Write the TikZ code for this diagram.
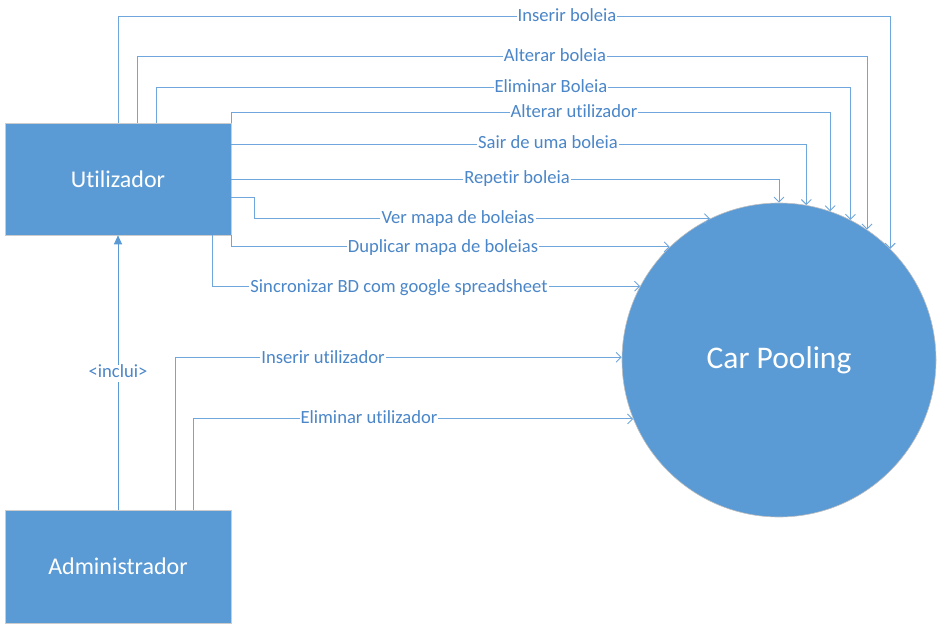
\documentclass[tikz,border=0pt]{standalone}
\usepackage{fontspec}
\setmainfont{Carlito}[Ligatures={NoCommon}]
\usetikzlibrary{arrows.meta,calc}
\definecolor{boxblue}{HTML}{5B9BD5}
\definecolor{lineblue}{HTML}{6FA6DB}
\definecolor{txtblue}{HTML}{4A86C8}
\begin{document}
\begin{tikzpicture}[x=1pt,y=-1pt,
  actor/.style={rectangle, fill=boxblue, draw=black!20, line width=0.6pt, minimum width=226pt, minimum height=112pt, text=white, font=\fontsize{24}{28}\selectfont, inner sep=0pt},
  proc/.style={circle, fill=boxblue, draw=black!25, line width=0.6pt, minimum size=314pt, inner sep=0pt, text=white, font=\fontsize{31.5}{36}\selectfont},
  flow/.style={draw=lineblue, line width=0.9pt, -{Straight Barb[length=5pt,width=10pt]}},
  incl/.style={draw=boxblue, line width=0.9pt, -{Triangle[length=9pt,width=8pt]}},
  lbl/.style={fill=white, text=txtblue, font=\fontsize{18.6}{22}\selectfont, inner xsep=1pt, inner ysep=0pt, text height=13pt, text depth=4pt}
]
\useasboundingbox (0,0) rectangle (941,631);
\node[actor] (U) at (118,179) {Utilizador};
\node[actor, minimum height=113pt] (A) at (118,566.5) {Administrador};
\node[proc] (C) at (779,360) {Car Pooling};

\draw[flow] (U.north) -- ++(0,-106) -| (C.45.5);
\draw[flow] ($(U.north)+(19,0)$) -- ++(0,-66) -| (C.56.35);
\draw[flow] ($(U.north)+(38,0)$) -- ++(0,-35) -| (C.63.5);
\draw[flow] (U.north east) -- ++(0,-10) -| (C.71.05);
\draw[flow] ($(U.east)+(0,-35)$) -| (C.80.8);
\draw[flow] (U.east) -| (C.north);
\draw[flow] ($(U.east)+(0,18)$) -- ++(23,0) |- (C.116.1);
\draw[flow] (U.south east) |- (C.134.5);
\draw[flow] ($(U.south east)+(-19,0)$) |- (C.152.7);
\draw[flow] ($(A.north)+(57,0)$) |- (C.179.6);
\draw[flow] ($(A.north)+(75,0)$) |- (C.202.07);
\draw[incl] (A.north) -- (U.south);

\node[lbl] (l1) at (567,17) {Inserir boleia};
\node[lbl] (l2) at (555,57) {Alterar boleia};
\node[lbl] (l3) at (551,88) {Eliminar Boleia};
\node[lbl] (l4) at (574,113) {Alterar utilizador};
\node[lbl] (l5) at (548,144) {Sair de uma boleia};
\node[lbl] (l6) at (517,179) {Repetir boleia};
\node[lbl] (l7) at (458,219) {Ver mapa de boleias};
\node[lbl] (l8) at (443,248) {Duplicar mapa de boleias};
\node[lbl] (l9) at (399,288) {Sincronizar BD com google spreadsheet};
\node[lbl] (l10) at (323,359) {Inserir utilizador};
\node[lbl] (l11) at (369,419) {Eliminar utilizador};
\node[lbl] (l12) at (118,373) {<inclui>};
\end{tikzpicture}
\end{document}
